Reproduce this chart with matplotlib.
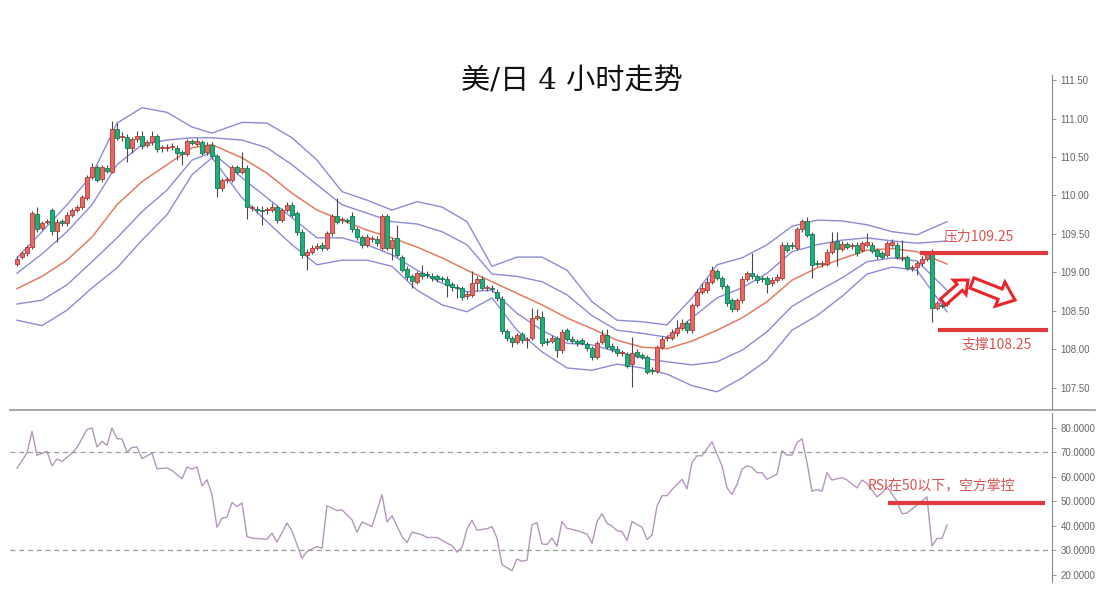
import numpy as np
import matplotlib
matplotlib.use("Agg")
import matplotlib.pyplot as plt
from matplotlib.patches import FancyArrow
from matplotlib.lines import Line2D

plt.rcParams['font.family'] = ['Noto Sans CJK SC', 'DejaVu Sans']

# ---- USD/JPY 4h candles (index 0..186) ----
opens = [
    109.11, 109.20, 109.25, 109.33, 109.76, 109.58, 109.66, 109.81, 109.54, 109.67,
    109.64, 109.75, 109.81, 109.85, 109.97, 110.24, 110.37, 110.21, 110.36, 110.31,
    110.86, 110.76, 110.76, 110.62, 110.73, 110.77, 110.66, 110.69, 110.77, 110.62,
    110.62, 110.63, 110.62, 110.56, 110.54, 110.71, 110.67, 110.69, 110.56, 110.66,
    110.51, 110.10, 110.20, 110.20, 110.37, 110.31, 110.36, 109.84, 109.82, 109.81,
    109.81, 109.81, 109.85, 109.68, 109.81, 109.88, 109.77, 109.53, 109.23, 109.27,
    109.32, 109.36, 109.32, 109.51, 109.73, 109.68, 109.68, 109.73, 109.56, 109.46,
    109.36, 109.44, 109.44, 109.32, 109.73, 109.32, 109.45, 109.20, 109.05, 108.95,
    108.88, 108.99, 108.98, 108.95, 108.95, 108.92, 108.92, 108.85, 108.81, 108.80,
    108.69, 108.71, 108.86, 108.92, 108.80, 108.80, 108.75, 108.66, 108.24, 108.15,
    108.10, 108.20, 108.12, 108.15, 108.41, 108.42, 108.11, 108.11, 108.15, 107.99,
    108.25, 108.14, 108.11, 108.12, 108.07, 108.02, 107.90, 108.10, 108.19, 108.05,
    108.01, 107.95, 107.94, 107.81, 107.97, 107.93, 107.90, 107.73, 107.72, 108.03,
    108.15, 108.15, 108.21, 108.28, 108.34, 108.25, 108.58, 108.75, 108.77, 108.88,
    109.02, 108.93, 108.82, 108.64, 108.53, 108.64, 108.92, 108.99, 108.95, 108.92,
    108.93, 108.86, 108.90, 108.93, 109.36, 109.36, 109.32, 109.56, 109.67, 109.50,
    109.12, 109.11, 109.11, 109.27, 109.41, 109.31, 109.37, 109.34, 109.36, 109.29,
    109.36, 109.36, 109.29, 109.25, 109.23, 109.36, 109.36, 109.19, 109.20, 109.06,
    109.07, 109.12, 109.18, 109.25, 108.54, 108.58, 108.59,
]
closes = [
    109.18, 109.25, 109.33, 109.77, 109.56, 109.64, 109.67, 109.54, 109.66, 109.64,
    109.75, 109.81, 109.85, 109.98, 110.24, 110.37, 110.20, 110.37, 110.32, 110.86,
    110.75, 110.77, 110.62, 110.73, 110.77, 110.64, 110.69, 110.77, 110.60, 110.62,
    110.63, 110.63, 110.55, 110.54, 110.71, 110.68, 110.71, 110.55, 110.66, 110.51,
    110.10, 110.20, 110.20, 110.37, 110.31, 110.36, 109.85, 109.84, 109.81, 109.80,
    109.81, 109.85, 109.68, 109.81, 109.88, 109.75, 109.53, 109.23, 109.27, 109.32,
    109.34, 109.32, 109.51, 109.73, 109.66, 109.68, 109.67, 109.56, 109.46, 109.36,
    109.46, 109.44, 109.38, 109.73, 109.32, 109.42, 109.23, 109.03, 108.94, 108.89,
    108.99, 108.95, 108.97, 108.93, 108.92, 108.91, 108.84, 108.81, 108.80, 108.68,
    108.72, 108.86, 108.92, 108.80, 108.80, 108.79, 108.67, 108.24, 108.15, 108.10,
    108.19, 108.12, 108.12, 108.41, 108.44, 108.08, 108.10, 108.15, 107.99, 108.23,
    108.14, 108.11, 108.08, 108.09, 108.02, 107.90, 108.08, 108.19, 108.03, 108.01,
    107.95, 107.95, 107.79, 107.95, 107.92, 107.90, 107.71, 107.72, 108.03, 108.14,
    108.15, 108.23, 108.28, 108.34, 108.25, 108.58, 108.75, 108.80, 108.88, 109.03,
    108.93, 108.82, 108.60, 108.53, 108.64, 108.92, 108.99, 108.95, 108.90, 108.91,
    108.85, 108.90, 108.94, 109.36, 109.29, 109.35, 109.56, 109.67, 109.49, 109.10,
    109.11, 109.11, 109.27, 109.40, 109.31, 109.37, 109.33, 109.34, 109.25, 109.38,
    109.40, 109.28, 109.21, 109.20, 109.38, 109.40, 109.20, 109.19, 109.06, 109.06,
    109.12, 109.18, 109.25, 108.54, 108.60, 108.57, 108.66,
]
highs = [
    109.21, 109.28, 109.36, 109.80, 109.85, 109.67, 109.70, 109.84, 109.69, 109.70,
    109.78, 109.84, 109.88, 110.01, 110.27, 110.42, 110.40, 110.40, 110.39, 110.97,
    110.94, 110.82, 110.80, 110.76, 110.84, 110.84, 110.72, 110.84, 110.80, 110.66,
    110.67, 110.68, 110.65, 110.59, 110.74, 110.74, 110.75, 110.72, 110.69, 110.69,
    110.54, 110.23, 110.24, 110.40, 110.40, 110.56, 110.39, 109.88, 109.87, 109.86,
    109.85, 109.90, 109.88, 109.84, 109.91, 109.91, 109.80, 109.56, 109.31, 109.36,
    109.38, 109.40, 109.54, 109.76, 109.97, 109.72, 109.71, 109.78, 109.59, 109.49,
    109.50, 109.48, 109.47, 109.76, 109.76, 109.45, 109.62, 109.23, 109.08, 108.98,
    109.02, 109.10, 109.02, 108.99, 108.98, 108.96, 108.95, 108.88, 108.85, 108.83,
    108.76, 109.02, 108.95, 108.96, 108.84, 108.84, 108.79, 108.69, 108.27, 108.18,
    108.22, 108.23, 108.16, 108.54, 108.53, 108.50, 108.15, 108.19, 108.18, 108.26,
    108.28, 108.17, 108.14, 108.15, 108.10, 108.05, 108.11, 108.25, 108.27, 108.08,
    108.04, 107.99, 107.97, 108.16, 108.00, 107.96, 107.93, 107.77, 108.06, 108.17,
    108.19, 108.26, 108.38, 108.40, 108.37, 108.61, 108.78, 108.86, 108.93, 109.08,
    109.05, 108.96, 108.85, 108.67, 108.67, 108.95, 109.02, 109.25, 108.98, 108.96,
    108.96, 108.94, 108.98, 109.39, 109.39, 109.40, 109.59, 109.70, 109.72, 109.53,
    109.16, 109.15, 109.30, 109.52, 109.52, 109.41, 109.40, 109.38, 109.39, 109.41,
    109.51, 109.39, 109.32, 109.28, 109.41, 109.44, 109.39, 109.42, 109.23, 109.10,
    109.15, 109.21, 109.28, 109.31, 108.63, 108.61, 108.69,
]
lows = [
    109.08, 109.17, 109.22, 109.31, 109.53, 109.55, 109.63, 109.49, 109.40, 109.61,
    109.61, 109.72, 109.78, 109.82, 109.94, 110.21, 110.17, 110.18, 110.29, 110.29,
    110.72, 110.71, 110.43, 110.55, 110.70, 110.61, 110.63, 110.66, 110.57, 110.57,
    110.58, 110.59, 110.46, 110.40, 110.51, 110.65, 110.64, 110.52, 110.53, 110.47,
    109.98, 110.06, 110.16, 110.17, 110.28, 110.28, 109.69, 109.80, 109.77, 109.62,
    109.76, 109.78, 109.64, 109.65, 109.78, 109.72, 109.49, 109.19, 109.03, 109.24,
    109.29, 109.28, 109.29, 109.48, 109.63, 109.64, 109.64, 109.53, 109.42, 109.32,
    109.33, 109.40, 109.35, 109.29, 109.29, 109.16, 109.20, 109.00, 108.90, 108.80,
    108.85, 108.92, 108.93, 108.89, 108.88, 108.87, 108.68, 108.76, 108.67, 108.64,
    108.65, 108.68, 108.76, 108.77, 108.76, 108.75, 108.63, 108.20, 108.11, 108.03,
    108.07, 108.09, 108.02, 108.12, 108.38, 108.05, 108.06, 108.08, 107.90, 107.95,
    108.11, 108.08, 108.05, 108.06, 107.98, 107.86, 107.87, 108.07, 108.00, 107.97,
    107.92, 107.91, 107.76, 107.51, 107.89, 107.87, 107.68, 107.68, 107.69, 108.00,
    108.11, 108.12, 108.18, 108.25, 108.22, 108.22, 108.55, 108.72, 108.74, 108.85,
    108.90, 108.79, 108.57, 108.49, 108.50, 108.61, 108.89, 108.92, 108.86, 108.87,
    108.74, 108.83, 108.87, 108.90, 109.26, 109.31, 109.29, 109.53, 109.46, 108.93,
    109.08, 109.07, 109.08, 109.24, 109.08, 109.28, 109.30, 109.30, 109.22, 109.26,
    109.33, 109.25, 109.18, 109.17, 109.20, 109.33, 109.17, 109.15, 109.03, 109.02,
    108.97, 109.09, 109.15, 108.36, 108.51, 108.54, 108.56,
]

# ---- Bollinger style bands, read at every ~5th candle ----
band_idx = [0, 5, 10, 15, 20, 25, 30, 35, 39, 45, 50, 55, 60, 65, 70, 75, 80, 85, 90,
            95, 100, 105, 110, 115, 120, 125, 130, 135, 140, 145, 150, 155, 160, 165,
            170, 175, 180, 186]
band_up2 = [109.19, 109.53, 109.88, 110.27, 110.94, 111.14, 111.08, 110.89, 110.81, 110.95,
            110.94, 110.75, 110.46, 110.05, 109.94, 109.81, 109.92, 109.85, 109.66, 109.08,
            109.20, 109.20, 109.03, 108.62, 108.38, 108.36, 108.32, 108.67, 109.10, 109.19,
            109.36, 109.60, 109.68, 109.67, 109.62, 109.53, 109.49, 109.66]
band_up1 = [108.99, 109.24, 109.53, 109.88, 110.40, 110.66, 110.72, 110.75, 110.75, 110.72,
            110.62, 110.40, 110.14, 109.88, 109.77, 109.66, 109.63, 109.53, 109.36, 108.98,
            108.95, 108.88, 108.71, 108.44, 108.25, 108.21, 108.16, 108.41, 108.67, 108.80,
            108.99, 109.27, 109.36, 109.42, 109.45, 109.41, 109.38, 109.41]
band_mid = [108.79, 108.95, 109.16, 109.46, 109.88, 110.18, 110.40, 110.62, 110.66, 110.49,
            110.29, 110.03, 109.81, 109.68, 109.55, 109.45, 109.33, 109.19, 109.03, 108.88,
            108.73, 108.58, 108.41, 108.27, 108.12, 108.03, 108.01, 108.11, 108.25, 108.41,
            108.62, 108.90, 109.06, 109.18, 109.29, 109.31, 109.27, 109.11]
band_lo1 = [108.59, 108.64, 108.84, 109.14, 109.45, 109.79, 110.07, 110.46, 110.56, 110.23,
            109.97, 109.71, 109.45, 109.45, 109.36, 109.23, 109.03, 108.86, 108.75, 108.77,
            108.47, 108.25, 108.08, 108.06, 107.97, 107.89, 107.84, 107.80, 107.84, 107.99,
            108.23, 108.56, 108.75, 108.93, 109.14, 109.19, 109.15, 108.77]
band_lo2 = [108.38, 108.31, 108.51, 108.80, 109.06, 109.42, 109.75, 110.27, 110.49, 109.97,
            109.66, 109.36, 109.10, 109.16, 109.16, 109.08, 108.77, 108.58, 108.49, 108.67,
            108.25, 107.97, 107.76, 107.73, 107.81, 107.76, 107.68, 107.53, 107.45, 107.63,
            107.86, 108.25, 108.44, 108.69, 108.98, 109.07, 109.03, 108.49]

# ---- RSI ----
rsi_idx = [0, 2, 3, 4, 6, 7, 8, 9, 11, 12, 14, 15, 16, 17, 18, 19, 20, 21, 22, 23, 24, 25,
           27, 28, 30, 31, 33, 34, 35, 36, 37, 38, 39, 40, 41, 42, 43, 44, 45, 46, 47, 50,
           51, 52, 54, 55, 57, 58, 60, 61, 62, 64, 65, 67, 68, 69, 71, 73, 74, 75, 77, 78,
           79, 81, 82, 84, 86, 87, 88, 89, 90, 91, 92, 94, 95, 96, 97, 99, 100, 101, 102,
           103, 104, 105, 106, 107, 108, 109, 110, 112, 114, 115, 116, 117, 118, 119, 120,
           121, 122, 123, 125, 126, 127, 128, 129, 130, 131, 133, 134, 135, 136, 137, 139,
           140, 141, 142, 143, 144, 145, 146, 147, 148, 149, 150, 152, 153, 154, 155, 156,
           157, 158, 159, 160, 161, 162, 163, 165, 166, 168, 169, 170, 172, 173, 174, 176,
           177, 178, 182, 183, 184, 185, 186]
rsi_val = [63.6, 69.7, 78.6, 68.8, 70.4, 64.5, 67.3, 66.3, 69.7, 72.0, 79.3, 80.0, 72.2,
           74.5, 72.9, 80.0, 75.6, 75.5, 70.0, 72.0, 72.2, 67.4, 69.7, 63.3, 63.6, 62.6,
           59.2, 64.0, 63.2, 64.0, 56.3, 58.8, 52.7, 39.4, 43.1, 43.5, 49.5, 47.9, 49.3,
           35.6, 34.9, 34.5, 37.0, 33.3, 41.1, 37.9, 26.7, 29.5, 31.5, 30.8, 48.2, 46.2,
           46.5, 42.4, 37.4, 41.5, 39.7, 52.7, 41.5, 44.1, 35.6, 33.1, 37.4, 36.3, 35.2,
           35.2, 32.9, 31.9, 29.2, 31.1, 38.7, 42.2, 38.2, 38.8, 39.6, 35.0, 24.1, 21.6,
           26.4, 25.5, 25.9, 40.5, 41.2, 32.6, 32.3, 35.0, 31.6, 41.7, 39.0, 38.0, 36.6,
           32.8, 41.7, 44.9, 41.0, 39.9, 38.0, 37.6, 33.9, 41.7, 39.4, 34.4, 36.2, 48.0,
           52.3, 52.3, 54.8, 59.0, 55.1, 65.9, 68.6, 68.6, 74.4, 69.3, 64.5, 55.5, 52.8,
           56.9, 63.1, 64.5, 63.8, 61.7, 61.7, 59.0, 61.0, 70.7, 68.9, 68.9, 74.1, 75.5,
           65.9, 54.1, 54.8, 54.1, 61.7, 58.7, 59.7, 58.7, 55.5, 58.7, 57.3, 51.8, 53.4,
           55.9, 50.0, 44.9, 45.2, 51.8, 31.7, 34.8, 34.8, 40.3]

resistance = 109.25
support = 108.25
rsi_mark = 49.3

W, H = 1111, 603
fig = plt.figure(figsize=(W / 100, H / 100), dpi=100)
fig.patch.set_facecolor('white')

XL = (-1.4, 207.0)
ax = fig.add_axes([10 / W, 1 - 410 / H, 1042 / W, 335 / H])
rx = fig.add_axes([10 / W, 1 - 582 / H, 1042 / W, 169 / H])

# candles
UP_FACE, UP_EDGE = '#e46a66', '#b83a36'
DN_FACE, DN_EDGE = '#1fb07a', '#137a52'
o = np.array(opens); c = np.array(closes)
x = np.arange(len(o))
up = c >= o
ax.vlines(x, lows, highs, color='#4a4a4a', lw=0.8, zorder=3)
body = np.maximum(np.abs(c - o), 0.012)
ax.bar(x, body, bottom=np.minimum(o, c), width=0.8,
       color=np.where(up, UP_FACE, DN_FACE), edgecolor=np.where(up, UP_EDGE, DN_EDGE),
       linewidth=0.6, zorder=4)

# bands
for vals in (band_up2, band_up1, band_lo1, band_lo2):
    ax.plot(band_idx, vals, color='#8b8bd8', lw=1.0, zorder=2)
ax.plot(band_idx, band_mid, color='#e77a62', lw=1.1, zorder=2)

ax.set_xlim(*XL)
ax.set_ylim(107.214, 111.565)
for s in ('left', 'top', 'bottom'):
    ax.spines[s].set_visible(False)
ax.spines['right'].set_color('#8a8a8a')
ax.spines['right'].set_linewidth(0.8)
ax.yaxis.tick_right()
pticks = np.arange(107.5, 111.51, 0.5)
ax.set_yticks(pticks)
ax.set_yticklabels([f'{v:.2f}' for v in pticks])
ax.tick_params(axis='y', length=3, width=0.6, color='#8a8a8a', labelsize=7, labelcolor='#666666', pad=3)
ax.set_xticks([])

# support / resistance annotations
RED = '#e0393e'
ax.hlines(resistance, 180.6, 206.2, color=RED, lw=3.0, zorder=5)
ax.hlines(support, 184.2, 206.2, color=RED, lw=3.0, zorder=5)
ax.text(192.4, 109.47, '压力109.25', color='#d9534f', fontsize=10, ha='center', va='center')
ax.text(196.0, 108.06, '支撑108.25', color='#d9534f', fontsize=10, ha='center', va='center')

# hollow arrows (drawn in inch coordinates so they keep their shape)
fig.add_artist(FancyArrow(9.43, 3.01, 0.25, 0.22, width=0.08, head_width=0.19, head_length=0.11,
                          length_includes_head=True, fc='white', ec='#e8262a', lw=2.2,
                          transform=fig.dpi_scale_trans))
fig.add_artist(FancyArrow(9.72, 3.20, 0.43, -0.17, width=0.11, head_width=0.26, head_length=0.16,
                          length_includes_head=True, fc='white', ec='#e8262a', lw=2.2,
                          transform=fig.dpi_scale_trans))

# RSI panel
rx.plot(rsi_idx, rsi_val, color='#b596bd', lw=1.0)
rx.axhline(70, color='#9a9a9a', lw=0.9, dashes=(4, 3))
rx.axhline(30, color='#9a9a9a', lw=0.9, dashes=(4, 3))
rx.hlines(rsi_mark, 174.2, 205.6, color=RED, lw=3.0)
rx.text(184.8, 56.7, 'RSI在50以下，空方掌控', color='#d9534f', fontsize=10, ha='center', va='center')
rx.set_xlim(*XL)
rx.set_ylim(17.0, 86.1)
for s in ('left', 'top', 'bottom'):
    rx.spines[s].set_visible(False)
rx.spines['right'].set_color('#8a8a8a')
rx.spines['right'].set_linewidth(0.8)
rx.yaxis.tick_right()
rticks = np.arange(20, 81, 10)
rx.set_yticks(rticks)
rx.set_yticklabels([f'{v:.4f}' for v in rticks])
rx.tick_params(axis='y', length=3, width=0.6, color='#8a8a8a', labelsize=7, labelcolor='#666666', pad=3)
rx.set_xticks([])

for a in (ax, rx):
    for lab in a.get_yticklabels():
        lab.set_family(['Liberation Sans', 'DejaVu Sans'])

# separator between the panels
fig.add_artist(Line2D([10 / W, 1095 / W], [1 - 410 / H, 1 - 410 / H], color='#9a9a9a', lw=1.2))

fig.text(572 / W, 1 - 82 / H, '美/日 4 小时走势', ha='center', va='center', fontsize=21,
         color='#111111', family=['DejaVu Serif', 'Noto Sans CJK SC'])

fig.savefig('out.png', dpi=100, facecolor='white')
